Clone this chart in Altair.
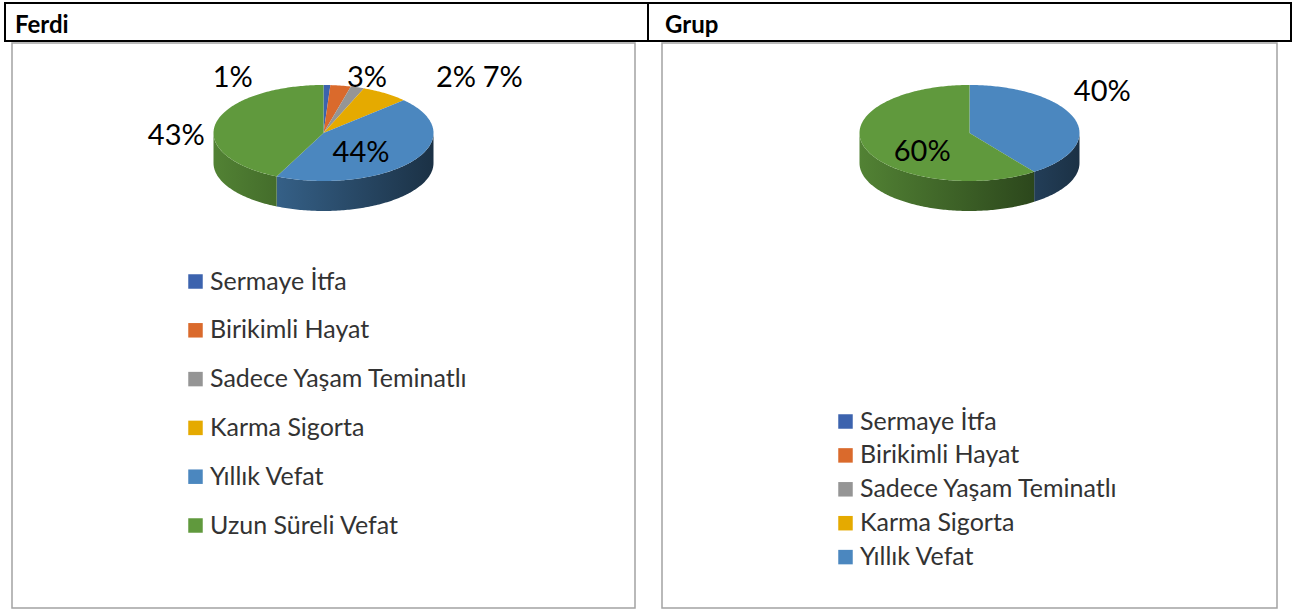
import math
import altair as alt
import pandas as pd

# ---------------- data ----------------
CATEGORIES = ["Sermaye İtfa", "Birikimli Hayat", "Sadece Yaşam Teminatlı",
              "Karma Sigorta", "Yıllık Vefat", "Uzun Süreli Vefat"]
FERDI_VALUES = [1, 3, 2, 7, 44, 43]
GRUP_VALUES = [0, 0, 0, 0, 40, 60]
PANEL_TITLES = ["Ferdi", "Grup"]
GRUP_LEGEND_ITEMS = CATEGORIES[:5]   # the Grup legend is cut after five entries

# ---------------- style / layout ----------------
COLORS = ["#3C63AE", "#DA6A2C", "#959595", "#E5AA00", "#4B87BF", "#60993D"]
FONT = "Lato"
RX, RY, DEPTH = 110, 48, 30          # pie ellipse radii and rim depth (px)
CY = 90                              # pie centre below top of panel (px)
H = 565
W_LEFT, W_RIGHT = 623, 615
SHADE_L, SHADE_R = 0.85, 0.36        # rim lighting from left to right
K_OUT, K_IN = 1.25, 0.5
LEGEND_FONT = 25
ENTRY_H = 25.6
# label placement: (outside?, nudge dx, nudge dy) in px, Excel-like layout
FERDI_LABELS = {
    "Sermaye İtfa": (True, -95, 5),
    "Birikimli Hayat": (True, 22, 4),
    "Sadece Yaşam Teminatlı": (True, 90, 2),
    "Karma Sigorta": (True, 102, -5),
    "Yıllık Vefat": (False, -7, 6),
    "Uzun Süreli Vefat": (True, -13, 16),
}
GRUP_LABELS = {
    "Yıllık Vefat": (True, 2, -22),
    "Uzun Süreli Vefat": (False, 5, 12),
}


def shade(hex_color, f):
    h = hex_color.lstrip("#")
    r, g, b = (int(h[i:i + 2], 16) for i in (0, 2, 4))
    return "#%02x%02x%02x" % (round(r * f), round(g * f), round(b * f))


def slices(values):
    total = float(sum(values))
    out, acc = [], 0.0
    for cat, v in zip(CATEGORIES, values):
        a1 = acc / total * 360.0
        acc += v
        a2 = acc / total * 360.0
        out.append((cat, v, a1, a2))
    return out


def arc_pts(a1, a2, dy=0.0):
    n = max(2, int(abs(a2 - a1)) + 2)
    pts = []
    for i in range(n):
        t = math.radians(a1 + (a2 - a1) * i / (n - 1))
        pts.append((RX * math.sin(t), RY * math.cos(t) + dy))
    return pts


def build_panel(title, values, width, label_cfg, legend_values, hx0, hx1):
    sl = slices(values)
    xs = alt.Scale(domain=[-width / 2, width / 2], nice=False, zero=False)
    ys = alt.Scale(domain=[-(H - CY), CY], nice=False, zero=False)

    # top faces
    rows = []
    for cat, v, a1, a2 in sl:
        if v <= 0:
            continue
        pts = [(0.0, 0.0)] + arc_pts(a1, a2) + [(0.0, 0.0)]
        for i, (x, y) in enumerate(pts):
            rows.append({"cat": cat, "x": x, "y": y, "i": i})
    top_df = pd.DataFrame(rows)

    legend = alt.Legend(
        orient="none", legendX=171, legendY=226 if legend_values is None else 366,
        title=None, symbolType="square", symbolSize=210, symbolStrokeWidth=0,
        labelFontSize=LEGEND_FONT, labelFont=FONT, labelColor="#333333", labelOffset=2,
        rowPadding=(48.4 - ENTRY_H) if legend_values is None else (33.5 - ENTRY_H),
        padding=0, labelLimit=500,
        **({"values": legend_values} if legend_values is not None else {}),
    )
    top = alt.Chart(top_df).mark_line(filled=True).encode(
        x=alt.X("x:Q", scale=xs, axis=None),
        y=alt.Y("y:Q", scale=ys, axis=None),
        color=alt.Color("cat:N", scale=alt.Scale(domain=CATEGORIES, range=COLORS),
                        legend=legend, sort=CATEGORIES),
        order="i:Q",
    )

    # visible rim (front half)
    side_layers = []
    for idx, (cat, v, a1, a2) in enumerate(sl):
        if v <= 0:
            continue
        lo, hi = max(a1, 90.0), min(a2, 270.0)
        if hi - lo <= 0.01:
            continue
        upper = arc_pts(lo, hi)
        lower = arc_pts(hi, lo, -DEPTH)
        pts = upper + lower + [upper[0]]
        df = pd.DataFrame([{"x": x, "y": y, "i": i} for i, (x, y) in enumerate(pts)])
        xmin = min(p[0] for p in pts)
        xmax = max(p[0] for p in pts)
        f0 = SHADE_L + (SHADE_R - SHADE_L) * (xmin + RX) / (2 * RX)
        f1 = SHADE_L + (SHADE_R - SHADE_L) * (xmax + RX) / (2 * RX)
        grad = alt.Gradient(gradient="linear", x1=0, x2=1, y1=0, y2=0, stops=[
            alt.GradientStop(offset=0, color=shade(COLORS[idx], f0)),
            alt.GradientStop(offset=1, color=shade(COLORS[idx], f1)),
        ])
        side_layers.append(
            alt.Chart(df).mark_line(filled=True, fill=grad).encode(
                x=alt.X("x:Q", scale=xs, axis=None),
                y=alt.Y("y:Q", scale=ys, axis=None),
                order="i:Q",
            )
        )

    # percentage labels
    lrows = []
    for cat, v, a1, a2 in sl:
        if v <= 0 or cat not in label_cfg:
            continue
        outside, ndx, ndy = label_cfg[cat]
        k = K_OUT if outside else K_IN
        t = math.radians((a1 + a2) / 2)
        lx = k * RX * math.sin(t) + ndx
        ly = k * RY * math.cos(t) - ndy
        lrows.append({"x": lx, "y": ly, "label": f"{v}%"})
    labels = alt.Chart(pd.DataFrame(lrows)).mark_text(
        font=FONT, fontSize=29, color="#000000", align="center", baseline="middle"
    ).encode(
        x=alt.X("x:Q", scale=xs, axis=None),
        y=alt.Y("y:Q", scale=ys, axis=None),
        text="label:N",
    )

    # header cell
    hdf = pd.DataFrame({"title": [title]})
    head_box = alt.Chart(hdf).mark_rect(
        fillOpacity=0, stroke="#000000", strokeWidth=2
    ).encode(x=alt.value(hx0), x2=alt.value(hx1), y=alt.value(-40), y2=alt.value(-2))
    head_txt = alt.Chart(hdf).mark_text(
        font=FONT, fontWeight="bold", fontSize=24, color="#000000",
        align="left", baseline="alphabetic"
    ).encode(x=alt.value(3), y=alt.value(-10), text="title:N")

    return alt.layer(head_box, head_txt, *side_layers, top, labels).properties(
        width=width, height=H,
        view=alt.ViewBackground(stroke="#a3a3a3", strokeWidth=1.5, fill="white"),
    )


left = build_panel(PANEL_TITLES[0], FERDI_VALUES, W_LEFT, FERDI_LABELS, None, -7, 636)
right = build_panel(PANEL_TITLES[1], GRUP_VALUES, W_RIGHT, GRUP_LABELS,
                    GRUP_LEGEND_ITEMS, -14, 629)

chart = alt.hconcat(left, right, spacing=27, bounds="flush").resolve_scale(
    color="independent"
).resolve_legend(color="independent").properties(
    padding={"left": 3, "top": 1, "right": 0, "bottom": 0},
    background="white",
)

chart.save("out.html", embed_options={"renderer": "svg", "actions": False})
